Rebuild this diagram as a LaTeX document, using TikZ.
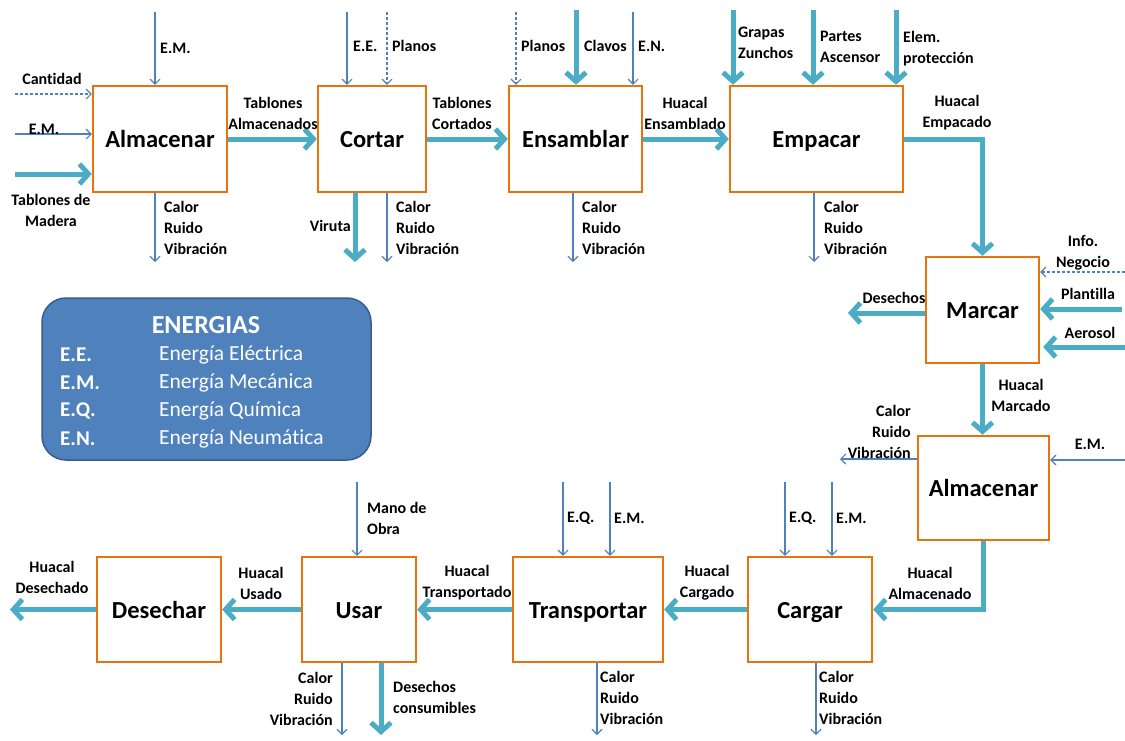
\documentclass[tikz,border=0pt]{standalone}
\usepackage{fontspec}
\setmainfont{Carlito}[Ligatures=NoCommon]
\usetikzlibrary{arrows.meta}
\definecolor{flowteal}{HTML}{4BACC6}
\definecolor{flowblue}{HTML}{4F81BD}
\definecolor{boxorange}{HTML}{E8720C}
\definecolor{legendfill}{HTML}{4F81BD}
\definecolor{legendedge}{HTML}{385D8A}
\tikzset{
  proc/.style={draw=boxorange, line width=2.4pt, fill=white, inner sep=0pt,
    text height=22pt, text depth=5pt,
    font=\fontsize{24.5}{28}\selectfont\bfseries},
  heavy/.style={draw=flowteal, line width=5pt,
    -{Straight Barb[length=9pt,width=20pt]}},
  light/.style={draw=flowblue, line width=1.1pt,
    -{Straight Barb[length=5pt,width=10pt]}},
  lightdash/.style={light, dash pattern=on 3pt off 2pt},
  lbl/.style={font=\fontsize{16}{21}\selectfont\bfseries, inner sep=0pt, align=center},
  lbll/.style={lbl, align=left, anchor=west},
  lblr/.style={lbl, align=right, anchor=east},
  legtitle/.style={font=\fontsize{26}{30}\selectfont\bfseries, text=white, inner sep=0pt},
  legkey/.style={font=\fontsize{21}{25}\selectfont\bfseries, text=white, inner sep=0pt, anchor=west},
  legval/.style={font=\fontsize{21.5}{25}\selectfont, text=white, inner sep=0pt, anchor=west},
}
\begin{document}
\begin{tikzpicture}[x=1pt, y=-1pt]
\useasboundingbox (0,0) rectangle (1125,740);

% ---------- process boxes ----------
\node[proc, minimum width=134pt, minimum height=106pt] (alm1) at (160,139) {Almacenar};
\node[proc, minimum width=108pt, minimum height=106pt] (cortar) at (372,139) {Cortar};
\node[proc, minimum width=133pt, minimum height=106pt] (ensamblar) at (575.5,139) {Ensamblar};
\node[proc, minimum width=173pt, minimum height=106pt] (empacar) at (816.5,139) {Empacar};
\node[proc, minimum width=113pt, minimum height=106pt] (marcar) at (982.5,310) {Marcar};
\node[proc, minimum width=131pt, minimum height=104pt] (alm2) at (983.5,488) {Almacenar};
\node[proc, minimum width=124pt, minimum height=105pt] (cargar) at (810,609.5) {Cargar};
\node[proc, minimum width=150pt, minimum height=105pt] (transportar) at (588,609.5) {Transportar};
\node[proc, minimum width=114pt, minimum height=105pt] (usar) at (359,609.5) {Usar};
\node[proc, minimum width=124pt, minimum height=105pt] (desechar) at (159,609.5) {Desechar};

% ---------- main flow ----------
\draw[heavy] (alm1) -- (cortar);
\draw[heavy] (cortar) -- (ensamblar);
\draw[heavy] (ensamblar) -- (empacar);
\draw[heavy] (empacar.east) -| (marcar.north);
\draw[heavy] (marcar.south) -- (marcar.south |- alm2.north);
\draw[heavy] (alm2.south) |- (cargar.east);
\draw[heavy] (cargar) -- (transportar);
\draw[heavy] (transportar) -- (usar);
\draw[heavy] (usar) -- (desechar);
\coordinate (dfin) at (10,609.5);
\draw[heavy] (desechar.west) -- (dfin);

\node[lbl] (lf1) at (273,113) {Tablones\\Almacenados};
\node[lbl] (lf2) at (462,113) {Tablones\\Cortados};
\node[lbl] (lf3) at (685,113) {Huacal\\Ensamblado};
\node[lbl] (lf4) at (957,113) {Huacal\\Empacado};
\node[lbl] (lf5) at (1021,395) {Huacal\\Marcado};
\node[lbl] (lf6) at (930,583) {Huacal\\Almacenado};
\node[lbl] (lf7) at (707,583) {Huacal\\Cargado};
\node[lbl] (lf8) at (467,583) {Huacal\\Transportado};
\node[lbl] (lf9) at (261,583) {Huacal\\Usado};
\node[lbl] (lf10) at (52,577) {Huacal\\Desechado};

% ---------- Almacenar (1) ----------
\coordinate (a1em) at (155,12);
\draw[light] (a1em) -- (a1em |- alm1.north);
\node[lbll] (a1eml) at (160,48) {E.M.};
\coordinate (a1can) at (15,94);
\draw[lightdash] (a1can) -- (a1can -| alm1.west);
\node[lbl] (a1canl) at (52,79) {Cantidad};
\coordinate (a1em2) at (15,134);
\draw[light] (a1em2) -- (a1em2 -| alm1.west);
\node[lbl] (a1em2l) at (44,129) {E.M.};
\coordinate (a1tab) at (15,174);
\draw[heavy] (a1tab) -- (a1tab -| alm1.west);
\node[lbl] (a1tabl) at (51,210) {Tablones de\\Madera};
\coordinate (a1out) at (155,262);
\draw[light] (a1out |- alm1.south) -- (a1out);
\node[lbll] (a1outl) at (164,228) {Calor\\Ruido\\Vibración};

% ---------- Cortar ----------
\coordinate (coee) at (347,12);
\draw[light] (coee) -- (coee |- cortar.north);
\node[lbll] (coeel) at (353,46) {E.E.};
\coordinate (copl) at (387,12);
\draw[lightdash] (copl) -- (copl |- cortar.north);
\node[lbll] (copll) at (392,46) {Planos};
\coordinate (covi) at (355,262);
\draw[heavy] (covi |- cortar.south) -- (covi);
\node[lblr] (covil) at (351,226) {Viruta};
\coordinate (coout) at (387,262);
\draw[light] (coout |- cortar.south) -- (coout);
\node[lbll] (cooutl) at (396,228) {Calor\\Ruido\\Vibración};

% ---------- Ensamblar ----------
\coordinate (enpl) at (516,12);
\draw[lightdash] (enpl) -- (enpl |- ensamblar.north);
\node[lbll] (enpll) at (521,46) {Planos};
\coordinate (encl) at (576,10);
\draw[heavy] (encl) -- (encl |- ensamblar.north);
\node[lbll] (encll) at (584,46) {Clavos};
\coordinate (enen) at (633,12);
\draw[light] (enen) -- (enen |- ensamblar.north);
\node[lbll] (enenl) at (638,46) {E.N.};
\coordinate (enout) at (573,262);
\draw[light] (enout |- ensamblar.south) -- (enout);
\node[lbll] (enoutl) at (582,228) {Calor\\Ruido\\Vibración};

% ---------- Empacar ----------
\coordinate (emgr) at (733,10);
\draw[heavy] (emgr) -- (emgr |- empacar.north);
\node[lbll] (emgrl) at (738,43) {Grapas\\Zunchos};
\coordinate (empa) at (813,10);
\draw[heavy] (empa) -- (empa |- empacar.north);
\node[lbll] (empal) at (820,47) {Partes\\Ascensor};
\coordinate (emel) at (896,10);
\draw[heavy] (emel) -- (emel |- empacar.north);
\node[lbll] (emell) at (903,49) {Elem.\\protección};
\coordinate (emout) at (814,262);
\draw[light] (emout |- empacar.south) -- (emout);
\node[lbll] (emoutl) at (824,228) {Calor\\Ruido\\Vibración};

% ---------- Marcar ----------
\coordinate (mainf) at (1125,272);
\draw[lightdash] (mainf) -- (mainf -| marcar.east);
\node[lbl] (mainfl) at (1083,253) {Info.\\Negocio};
\coordinate (mapl) at (1122,309);
\draw[heavy] (mapl) -- (mapl -| marcar.east);
\node[lbl] (mapll) at (1088,294) {Plantilla};
\coordinate (maae) at (1125,347);
\draw[heavy] (maae) -- ([xshift=3pt]maae -| marcar.east);
\node[lbl] (maael) at (1090,333) {Aerosol};
\coordinate (made) at (848,313);
\draw[heavy] (made -| marcar.west) -- (made);
\node[lbl] (madel) at (894,298) {Desechos};

% ---------- Almacenar (2) ----------
\coordinate (a2em) at (1125,460);
\draw[light] (a2em) -- (a2em -| alm2.east);
\node[lbl] (a2eml) at (1090,444) {E.M.};
\coordinate (a2out) at (840,459);
\draw[light] (a2out -| alm2.west) -- (a2out);
\node[lblr] (a2outl) at (911,432) {Calor\\Ruido\\Vibración};

% ---------- Cargar ----------
\coordinate (caeq) at (785,482);
\draw[light] (caeq) -- (caeq |- cargar.north);
\node[lbll] (caeql) at (789,518) {E.Q.};
\coordinate (caem) at (832,482);
\draw[light] (caem) -- (caem |- cargar.north);
\node[lbll] (caeml) at (836,518) {E.M.};
\coordinate (caout) at (816,735);
\draw[light] (caout |- cargar.south) -- (caout);
\node[lbll] (caoutl) at (819,698) {Calor\\Ruido\\Vibración};

% ---------- Transportar ----------
\coordinate (treq) at (563,482);
\draw[light] (treq) -- (treq |- transportar.north);
\node[lbll] (treql) at (567,518) {E.Q.};
\coordinate (trem) at (610,482);
\draw[light] (trem) -- (trem |- transportar.north);
\node[lbll] (treml) at (614,518) {E.M.};
\coordinate (trout) at (597,735);
\draw[light] (trout |- transportar.south) -- (trout);
\node[lbll] (troutl) at (600,698) {Calor\\Ruido\\Vibración};

% ---------- Usar ----------
\coordinate (usmo) at (357,482);
\draw[light] (usmo) -- (usmo |- usar.north);
\node[lbll] (usmol) at (367,518) {Mano de\\Obra};
\coordinate (usout) at (342,735);
\draw[light] (usout |- usar.south) -- (usout);
\node[lblr] (usoutl) at (333,699) {Calor\\Ruido\\Vibración};
\coordinate (usde) at (381,735);
\draw[heavy] (usde |- usar.south) -- (usde);
\node[lbll] (usdel) at (393,697) {Desechos\\consumibles};

% ---------- legend ----------
\node[draw=legendedge, line width=1.5pt, fill=legendfill, rounded corners=24pt,
      minimum width=329pt, minimum height=162pt] (legend) at (206.5,379) {};
\node[legtitle] (legt) at (206,325) {ENERGIAS};
\node[legkey] (k1) at (60,355) {E.E.};
\node[legval] (v1) at (159,355) {Energía Eléctrica};
\node[legkey] (k2) at (60,383) {E.M.};
\node[legval] (v2) at (159,383) {Energía Mecánica};
\node[legkey] (k3) at (60,411) {E.Q.};
\node[legval] (v3) at (159,411) {Energía Química};
\node[legkey] (k4) at (60,439) {E.N.};
\node[legval] (v4) at (159,439) {Energía Neumática};
\end{tikzpicture}
\end{document}
